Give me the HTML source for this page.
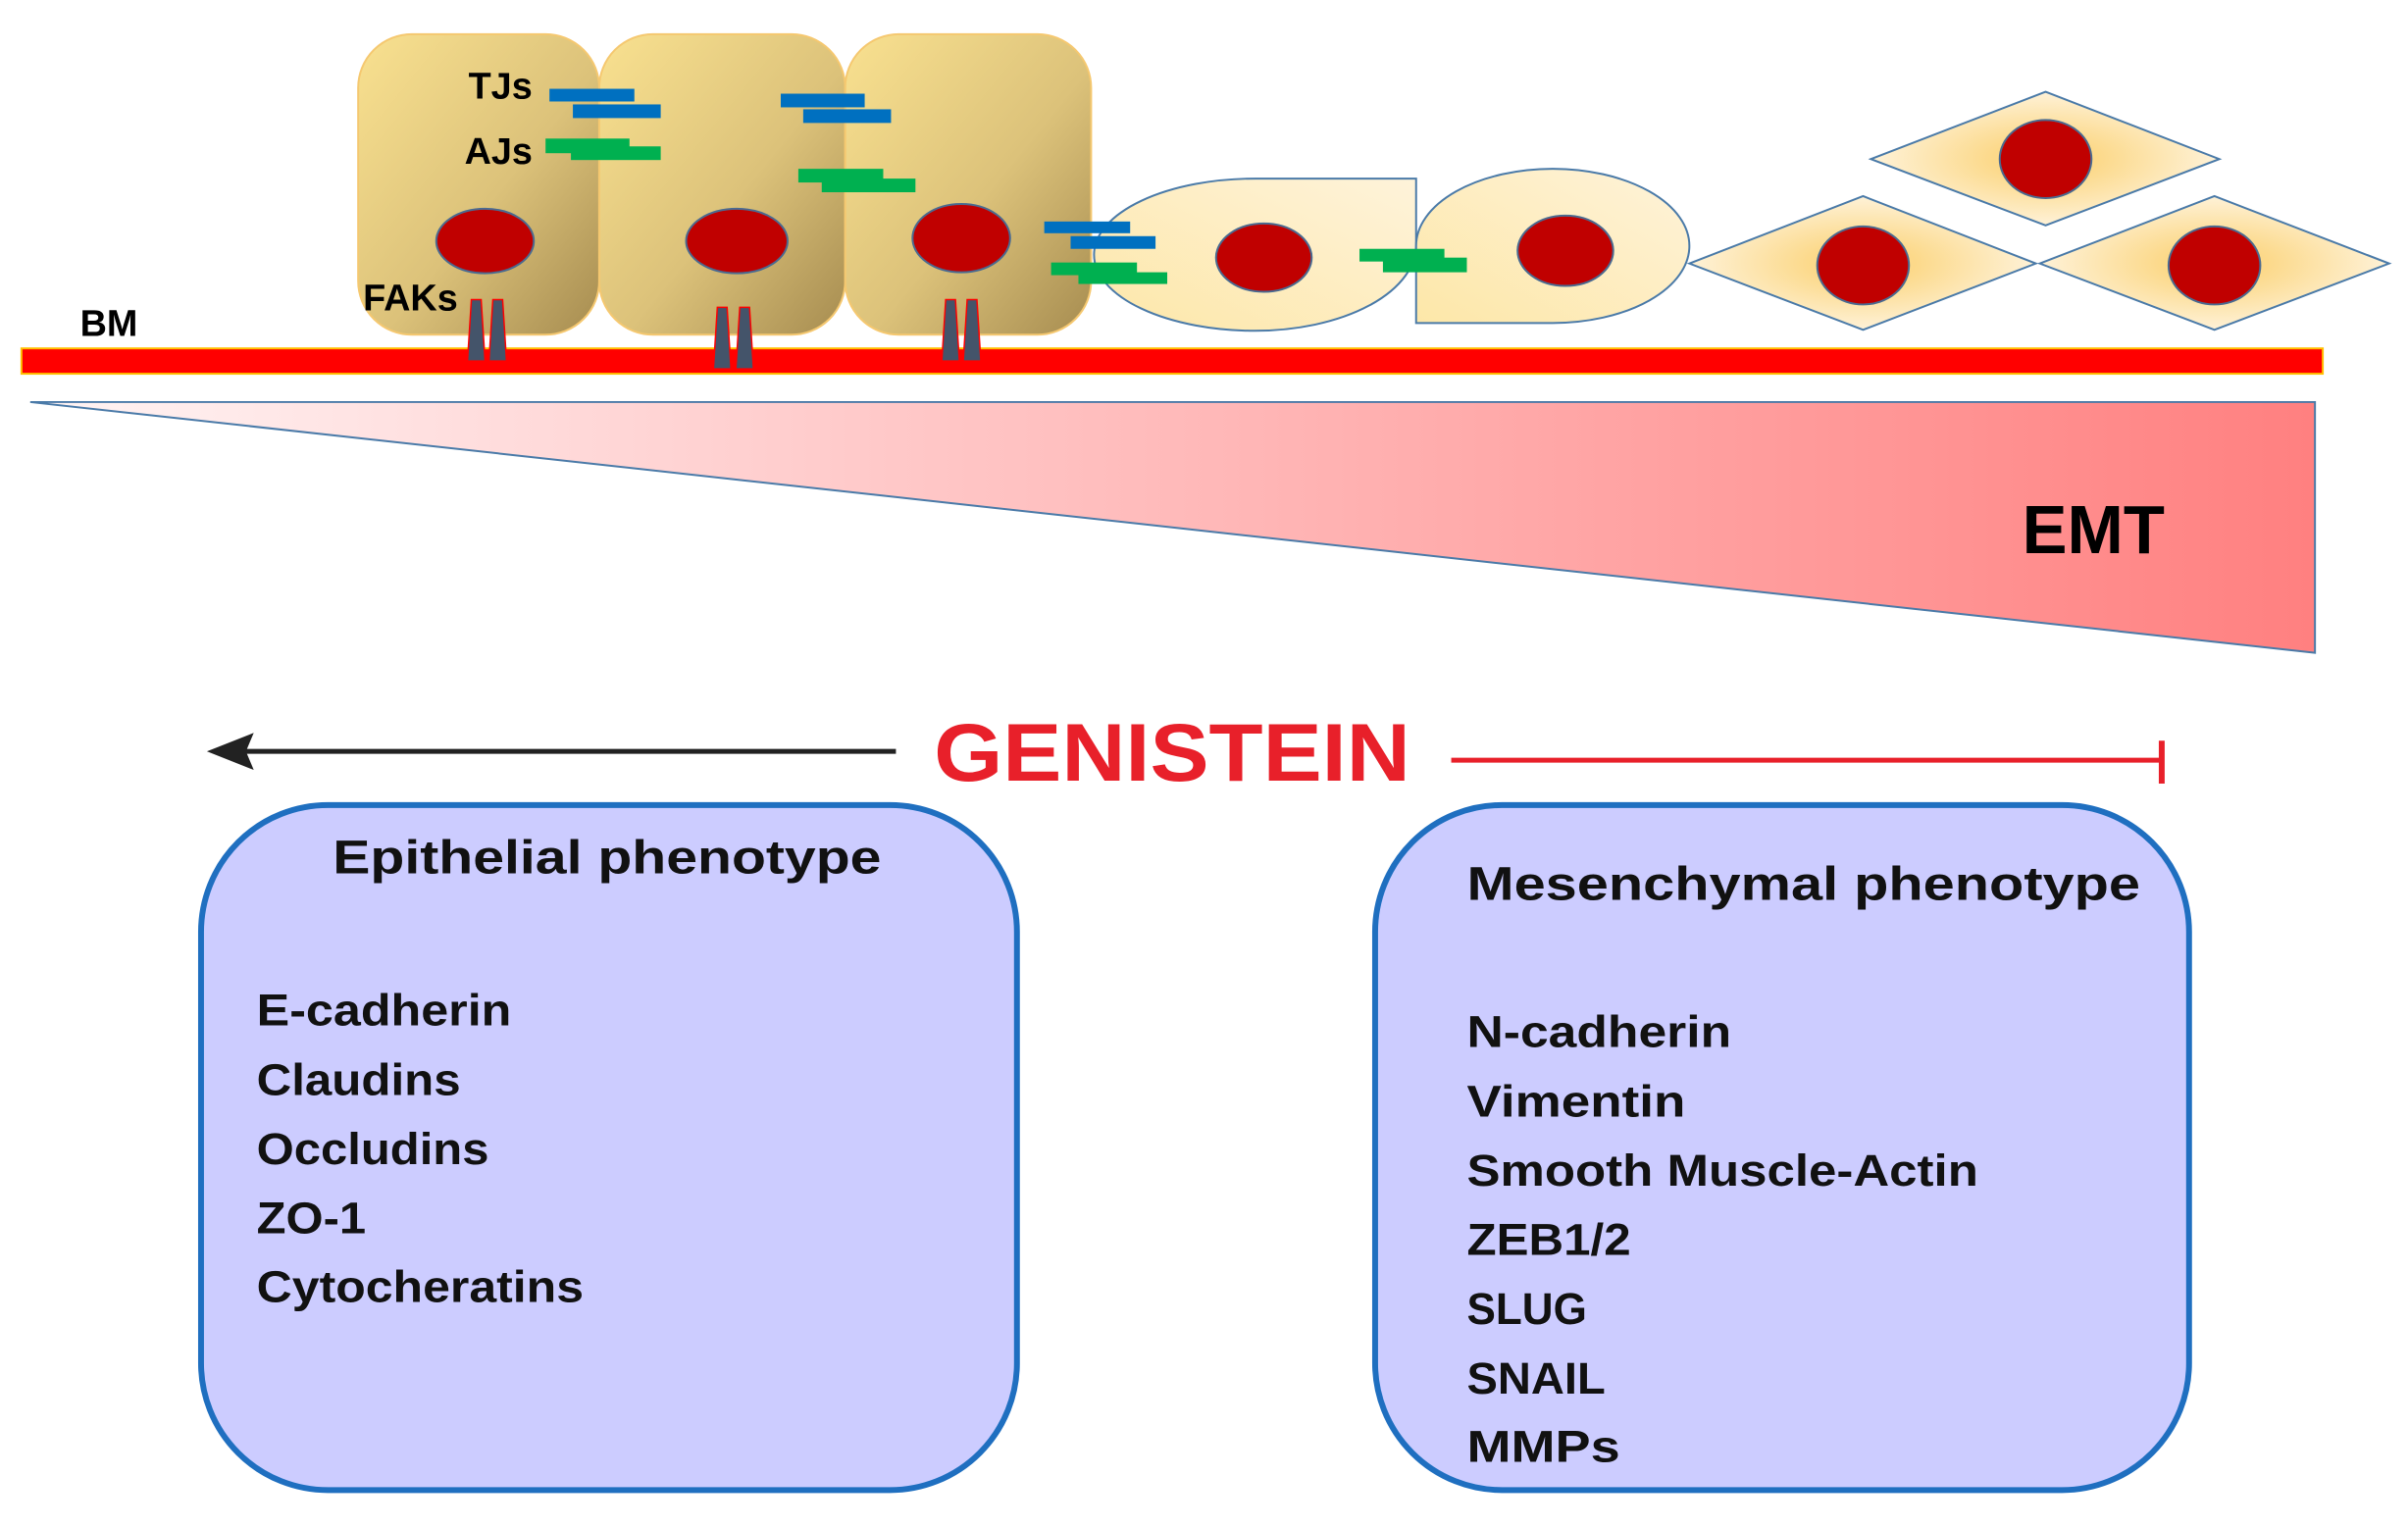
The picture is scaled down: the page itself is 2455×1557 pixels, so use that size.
<!DOCTYPE html>
<html><head><meta charset="utf-8"><style>html,body{margin:0;padding:0;background:#fff}svg{display:block}</style></head><body>
<svg width="2455" height="1557" viewBox="0 0 2455 1557" xmlns="http://www.w3.org/2000/svg" font-family="Liberation Sans, sans-serif">
<defs>
<linearGradient id="cell" x1="0" y1="0" x2="1" y2="1"><stop offset="0" stop-color="#f9e190"/><stop offset="0.55" stop-color="#dcc27a"/><stop offset="1" stop-color="#a68c50"/></linearGradient>
<linearGradient id="rc" x1="0" y1="1" x2="1" y2="0"><stop offset="0" stop-color="#fde7a8"/><stop offset="1" stop-color="#fef3da"/></linearGradient>
<radialGradient id="dm" cx="0.5" cy="0.5" r="0.5"><stop offset="0.3" stop-color="#fcd98a"/><stop offset="1" stop-color="#fef2d8"/></radialGradient>
<linearGradient id="emt" x1="0" y1="0" x2="1" y2="0"><stop offset="0" stop-color="#fff4f4"/><stop offset="1" stop-color="#ff8080"/></linearGradient>
</defs>
<g transform="scale(0.995)">
<!-- BM bar -->
<rect x="22" y="357" width="2358" height="26" fill="#ff0000" stroke="#ffc000" stroke-width="2"/>
<text x="82" y="344" font-size="38" font-weight="bold">BM</text>
<!-- columnar cells -->
<rect x="367" y="35" width="247" height="308" rx="55" fill="url(#cell)" stroke="#f5c870" stroke-width="2"/>
<rect x="614" y="35" width="252" height="308" rx="55" fill="url(#cell)" stroke="#f5c870" stroke-width="2"/>
<rect x="866" y="35" width="252" height="308" rx="55" fill="url(#cell)" stroke="#f5c870" stroke-width="2"/>
<g fill="#c00000" stroke="#4a6a90" stroke-width="2">
<ellipse cx="497" cy="247" rx="50" ry="33"/><ellipse cx="755" cy="247" rx="52" ry="33"/><ellipse cx="985" cy="244" rx="50" ry="35"/>
</g>
<!-- FAK pegs -->
<g fill="#44546a" stroke="#ff0000" stroke-width="1.5">
<path d="M483 307 L493 307 L497 370 L479 370Z"/><path d="M505 307 L515 307 L519 370 L501 370Z"/>
<path d="M735 315 L745 315 L749 378 L731 378Z"/><path d="M758 315 L768 315 L772 378 L754 378Z"/>
<path d="M969 307 L979 307 L983 370 L965 370Z"/><path d="M991 307 L1001 307 L1005 370 L987 370Z"/>
</g>
<g font-weight="bold" font-size="38">
<text x="480" y="101">TJs</text><text x="476" y="168">AJs</text><text x="372" y="318">FAKs</text>
</g>
<!-- transitional cells -->
<path d="M1286 183 L1451 183 L1451 250 A165 88 0 0 1 1286 339 A165 78 0 0 1 1121 261 A165 78 0 0 1 1286 183Z" fill="url(#rc)" stroke="#4a7aa8" stroke-width="2"/>
<path d="M1451 252 A140 79 0 0 1 1591 173 A140 79 0 0 1 1731 252 A140 79 0 0 1 1591 331 L1451 331Z" fill="url(#rc)" stroke="#4a7aa8" stroke-width="2"/>
<!-- junctions -->
<g fill="#0070c0">
<rect x="563" y="91" width="87" height="13"/><rect x="587" y="107" width="90" height="14"/>
<rect x="800" y="96" width="86" height="14"/><rect x="823" y="112" width="90" height="14"/>
<rect x="1070" y="227" width="88" height="12"/><rect x="1097" y="242" width="87" height="13"/>
</g>
<g fill="#00b050">
<rect x="559" y="142" width="86" height="15"/><rect x="585" y="150" width="92" height="14"/>
<rect x="818" y="173" width="87" height="14"/><rect x="842" y="183" width="96" height="14"/>
<rect x="1077" y="269" width="88" height="13"/><rect x="1105" y="279" width="91" height="12"/>
<rect x="1393" y="255" width="87" height="13"/><rect x="1417" y="264" width="86" height="15"/>
</g>
<!-- diamonds -->
<g fill="url(#dm)" stroke="#4a7aa8" stroke-width="2">
<path d="M1731 270 L1909 201 L2086 270 L1909 338Z"/>
<path d="M1917 163 L2096 94 L2274 163 L2096 231Z"/>
<path d="M2090 270 L2269 201 L2448 270 L2269 338Z"/>
</g>
<g fill="#c00000" stroke="#4a6a90" stroke-width="2">
<ellipse cx="1295" cy="264" rx="49" ry="35"/><ellipse cx="1604" cy="257" rx="49" ry="36"/>
<ellipse cx="1909" cy="272" rx="47" ry="40"/><ellipse cx="2096" cy="163" rx="47" ry="40"/><ellipse cx="2269" cy="272" rx="47" ry="40"/>
</g>
<!-- EMT triangle -->
<path d="M31 412 L2372 412 L2372 669Z" fill="url(#emt)" stroke="#4a7aa8" stroke-width="2"/>
<text x="2072" y="567" font-size="70" font-weight="bold" textLength="146" lengthAdjust="spacingAndGlyphs">EMT</text>
<!-- GENISTEIN -->
<line x1="918" y1="770" x2="250" y2="770" stroke="#222" stroke-width="5"/>
<path d="M212 770 L260 751 L252 770 L260 789Z" fill="#222"/>
<text x="957" y="800" font-size="84" font-weight="bold" fill="#e8202a" textLength="488" lengthAdjust="spacingAndGlyphs">GENISTEIN</text>
<line x1="1487" y1="779" x2="2215" y2="779" stroke="#e8202a" stroke-width="5"/>
<line x1="2215" y1="759" x2="2215" y2="803" stroke="#e8202a" stroke-width="6"/>
<!-- boxes -->
<rect x="206" y="825" width="836" height="702" rx="130" fill="#ccccff" stroke="#1f6fc0" stroke-width="6"/>
<rect x="1409" y="825" width="834" height="702" rx="130" fill="#ccccff" stroke="#1f6fc0" stroke-width="6"/>
<g font-weight="bold" font-size="48" fill="#111">
<text x="341" y="895" textLength="562" lengthAdjust="spacingAndGlyphs">Epithelial phenotype</text>
<text x="263" y="1051" textLength="261" lengthAdjust="spacingAndGlyphs" font-size="46">E-cadherin</text>
<text x="263" y="1122" textLength="209" lengthAdjust="spacingAndGlyphs" font-size="46">Claudins</text>
<text x="263" y="1193" textLength="238" lengthAdjust="spacingAndGlyphs" font-size="46">Occludins</text>
<text x="263" y="1264" textLength="112" lengthAdjust="spacingAndGlyphs" font-size="46">ZO-1</text>
<text x="263" y="1334" textLength="335" lengthAdjust="spacingAndGlyphs" font-size="46">Cytocheratins</text>
<text x="1503" y="922" textLength="690" lengthAdjust="spacingAndGlyphs">Mesenchymal phenotype</text>
<text x="1503" y="1073" textLength="271" lengthAdjust="spacingAndGlyphs" font-size="46">N-cadherin</text>
<text x="1503" y="1144" textLength="224" lengthAdjust="spacingAndGlyphs" font-size="46">Vimentin</text>
<text x="1503" y="1215" textLength="524" lengthAdjust="spacingAndGlyphs" font-size="46">Smooth Muscle-Actin</text>
<text x="1503" y="1286" textLength="168" lengthAdjust="spacingAndGlyphs" font-size="46">ZEB1/2</text>
<text x="1503" y="1357" textLength="123" lengthAdjust="spacingAndGlyphs" font-size="46">SLUG</text>
<text x="1503" y="1428" textLength="142" lengthAdjust="spacingAndGlyphs" font-size="46">SNAIL</text>
<text x="1503" y="1498" textLength="157" lengthAdjust="spacingAndGlyphs" font-size="46">MMPs</text>
</g>
</g>
</svg>
</body></html>
